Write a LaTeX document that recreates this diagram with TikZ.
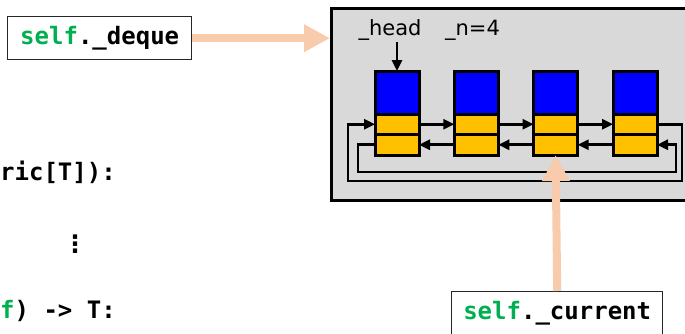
\documentclass[tikz,border=0pt]{standalone}
\usepackage{fontspec}
\setmainfont{DejaVu Sans}
\setmonofont{DejaVu Sans Mono}
\usetikzlibrary{arrows.meta}
\definecolor{panel}{HTML}{D9D9D9}
\definecolor{cellblue}{HTML}{0000FF}
\definecolor{cellgold}{HTML}{FFC000}
\definecolor{kwgreen}{HTML}{00B050}
\definecolor{peach}{HTML}{F8CBAD}
\definecolor{frame}{HTML}{262626}
\newcommand{\selfkw}{\textcolor{kwgreen}{self}}

\begin{document}
\begin{tikzpicture}[x=1pt,y=-1pt,
  cell/.style={draw=black, line width=3pt, minimum width=44pt, inner sep=0pt, outer sep=0pt},
  payload/.style={cell, fill=cellblue, minimum height=43pt},
  link/.style={cell, fill=cellgold, minimum height=20.5pt},
  ptr/.style={draw=black, line width=2.6pt, -{Triangle[length=11pt,width=10pt]}},
  callout/.style={draw=frame, line width=1.4pt, fill=white, minimum width=184pt,
    minimum height=43pt, inner sep=0pt, font=\fontsize{24}{28}\selectfont\ttfamily\bfseries},
  code/.style={font=\fontsize{24}{28}\selectfont\ttfamily\bfseries, inner sep=0pt},
  fieldlabel/.style={font=\fontsize{21}{25}\selectfont, inner sep=0pt},
  pointer/.style={draw=peach, line width=8pt, -{Triangle[length=26pt,width=26pt]}}
]
\useasboundingbox (0,0) rectangle (685,333);
\clip (0,0) rectangle (685,333);

% panel holding the deque
\node[draw=black, line width=2.6pt, fill=panel, anchor=north west,
      minimum width=362pt, minimum height=192pt, inner sep=0pt] (listbox) at (330,7) {};

% the four list nodes: payload, next link, prev link
\foreach \i/\x in {1/397,2/476.3,3/555.6,4/635} {
  \node[payload, anchor=north] (b\i) at (\x,71) {};
  \node[link, anchor=north] (f\i) at (b\i.south) {};
  \node[link, anchor=north] (p\i) at (f\i.south) {};
}

% next and prev links between neighbours
\foreach \a/\b in {1/2,2/3,3/4} {
  \draw[ptr] (f\a.east) -- (f\b.west);
  \draw[ptr] (p\b.west) -- (p\a.east);
}

% wrap-around links
\coordinate (outerR) at (682,181);
\coordinate (outerL) at (348,181);
\coordinate (innerL) at (358,172);
\coordinate (innerR) at (676,172);
\draw[ptr] (f4.east) -| (outerR) -- (outerL) |- (f1.west);
\draw[ptr] (p1.west) -| (innerL) -- (innerR) |- (p4.east);

% field labels
\node[fieldlabel, anchor=base] (headlbl) at (390,35) {\_head};
\node[fieldlabel, anchor=base] (nlbl) at (472.5,35) {\_n=4};
\coordinate (headtail) at (397,42);
\draw[ptr] (headtail) -- (b1.north);

% code fragments
\node[code, anchor=base west] (sig) at (0,180) {ric[T]):};
\node[font=\fontsize{24}{28}\selectfont\bfseries, inner sep=0pt] (dots) at (75,244) {⋮};
\node[code, anchor=base west] (ret) at (0,318) {\textcolor{kwgreen}{f}) -> T:};

% attribute callouts
\node[callout, anchor=north west] (deque) at (7,16) {\selfkw.\_deque};
\node[callout, minimum width=211pt, anchor=north west] (current) at (451,291) {\selfkw.\_current};

\draw[pointer] (deque.east) -- (deque.east -| listbox.west);
\draw[pointer] (current.north) -- (p3.south);
\end{tikzpicture}
\end{document}
